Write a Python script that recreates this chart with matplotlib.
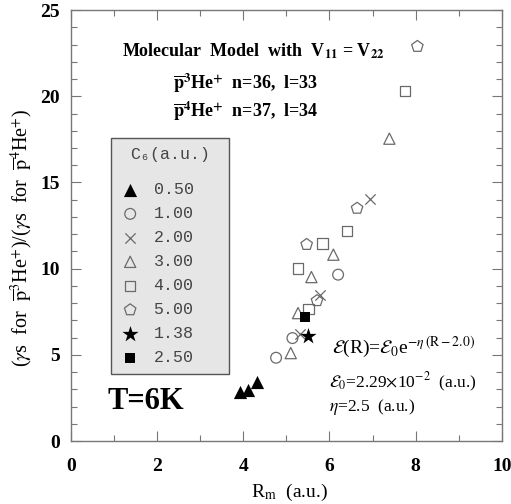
import matplotlib
matplotlib.use("Agg")
import matplotlib.pyplot as plt
from matplotlib.font_manager import FontProperties
from matplotlib.ticker import MultipleLocator

plt.rcParams['font.family'] = ['Liberation Serif', 'DejaVu Serif']
plt.rcParams['mathtext.fontset'] = 'stix'

# data: (Rm, ratio) for each C6 value
c6_050_x = [3.92, 4.11, 4.32]
c6_050_y = [2.85, 2.97, 3.43]
c6_100_x = [4.76, 5.14, 6.20]
c6_100_y = [4.83, 5.97, 9.65]
c6_200_x = [5.31, 5.78, 6.94]
c6_200_y = [6.20, 8.49, 14.05]
c6_300_x = [5.10, 5.27, 5.58, 6.09, 7.39]
c6_300_y = [5.10, 7.42, 9.51, 10.81, 17.54]
c6_400_x = [5.51, 5.27, 5.84, 6.40, 7.75]
c6_400_y = [7.67, 10.00, 11.45, 12.20, 20.31]
c6_500_x = [5.71, 5.47, 6.64, 8.04]
c6_500_y = [8.14, 11.40, 13.50, 22.89]
c6_138_x = [5.51]
c6_138_y = [6.07]
c6_250_x = [5.43]
c6_250_y = [7.19]

labels = ["0.50", "1.00", "2.00", "3.00", "4.00", "5.00", "1.38", "2.50"]

fig = plt.figure(figsize=(5.11, 5.04), dpi=100)
ax = fig.add_axes([0.139, 0.125, 0.843, 0.855])

gray = '#6a6a6a'
hs = []
hs.append(ax.scatter(c6_050_x, c6_050_y, marker='^', s=90, c='black', linewidths=0))
hs.append(ax.scatter(c6_100_x, c6_100_y, marker='o', s=60, facecolors='none', edgecolors=gray, linewidths=0.9))
hs.append(ax.scatter(c6_200_x, c6_200_y, marker='x', s=55, c=gray, linewidths=0.9))
hs.append(ax.scatter(c6_300_x, c6_300_y, marker='^', s=65, facecolors='none', edgecolors=gray, linewidths=0.9))
hs.append(ax.scatter(c6_400_x, c6_400_y, marker='s', s=55, facecolors='none', edgecolors=gray, linewidths=0.9))
hs.append(ax.scatter(c6_500_x, c6_500_y, marker='p', s=75, facecolors='none', edgecolors=gray, linewidths=0.9))
hs.append(ax.scatter(c6_138_x, c6_138_y, marker='*', s=150, c='black', linewidths=0))
hs.append(ax.scatter(c6_250_x, c6_250_y, marker='s', s=60, c='black', linewidths=0))

ax.set_xlim(0, 10)
ax.set_ylim(0, 25)
ax.xaxis.set_major_locator(MultipleLocator(2))
ax.xaxis.set_minor_locator(MultipleLocator(1))
ax.yaxis.set_major_locator(MultipleLocator(5))
ax.yaxis.set_minor_locator(MultipleLocator(1))
ax.tick_params(which='both', direction='in', top=True, right=True, color='#777777', width=0.8)
ax.tick_params(which='major', length=7, labelsize=14)
ax.tick_params(axis='x', which='major', pad=12)
ax.tick_params(axis='y', which='major', pad=8)
ax.tick_params(which='minor', length=4)
for lab in ax.get_xticklabels() + ax.get_yticklabels():
    lab.set_fontweight('bold')
for sp in ax.spines.values():
    sp.set_color('#777777')
    sp.set_linewidth(1.0)

ax.set_xlabel(r"R$_\mathrm{m}$  (a.u.)", fontsize=14)
ax.xaxis.set_label_coords(0.506, -0.095)
ax.set_ylabel(r"($\gamma$s  for  $\overline{\mathrm{p}}^{3}$He$^{+}$)/($\gamma$s  for  $\overline{\mathrm{p}}^{4}$He$^{+}$)",
              fontsize=14.5)
ax.yaxis.set_label_coords(-0.083, 0.471)

mono = FontProperties(family=['Liberation Mono', 'DejaVu Sans Mono'], size=12)
leg = ax.legend(hs, labels, title="C\u2086(a.u.)", prop=mono, loc='upper left',
                bbox_to_anchor=(0.0928, 0.158, 0.274, 0.545), mode='expand',
                fancybox=False, framealpha=1,
                facecolor='#e6e6e6', edgecolor='#555555', labelspacing=0.54,
                handletextpad=0.8, borderpad=0.55, handlelength=1.2, borderaxespad=0)
leg.get_title().set_fontproperties(mono)
leg.get_title().set_color('#444444')
leg._legend_box.sep = 14.4
for t in leg.get_texts():
    t.set_color('#444444')
leg.get_frame().set_linewidth(1.0)

ax.text(0.423, 0.905, r"Molecular  Model  with  V$_{\mathbf{11}}$ = V$_{\mathbf{22}}$",
        transform=ax.transAxes, ha='center', va='center', fontsize=13, fontweight='bold')
ax.text(0.237, 0.831, r"$\overline{\mathbf{p}}^{\mathbf{3}}$He$^{\mathbf{+}}$  n=36,  l=33",
        transform=ax.transAxes, ha='left', va='center', fontsize=13, fontweight='bold')
ax.text(0.237, 0.766, r"$\overline{\mathbf{p}}^{\mathbf{4}}$He$^{\mathbf{+}}$  n=37,  l=34",
        transform=ax.transAxes, ha='left', va='center', fontsize=13, fontweight='bold')

ax.text(0.605, 0.216, r"$\mathcal{E}$(R)=$\mathcal{E}_0$e$^{-\eta\,(\mathrm{R}-2.0)}$",
        transform=ax.transAxes, ha='left', va='center', fontsize=14)
ax.text(0.60, 0.135, r"$\mathcal{E}_0$=2.29$\times$10$^{-2}$  (a.u.)",
        transform=ax.transAxes, ha='left', va='center', fontsize=12.5)
ax.text(0.60, 0.079, r"$\eta$=2.5  (a.u.)",
        transform=ax.transAxes, ha='left', va='center', fontsize=12.5)
ax.text(0.085, 0.092, "T=6K", transform=ax.transAxes, ha='left', va='center',
        fontsize=22, fontweight='bold')

fig.savefig("out.png", dpi=100)
